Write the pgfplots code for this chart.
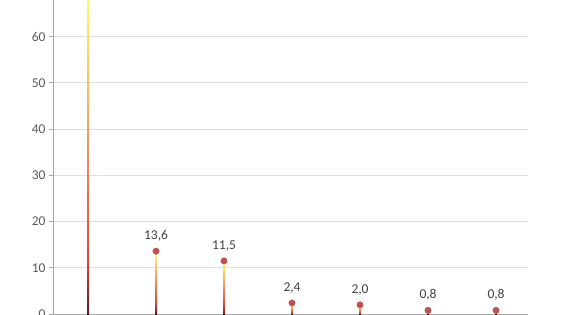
\documentclass[border=0pt]{standalone}
\usepackage{fontspec}
\setmainfont{Carlito}
\usepackage{pgfplots}
\pgfplotsset{compat=1.18}
\definecolor{stemdark}{HTML}{4A1E1E}
\definecolor{stemred}{HTML}{D6453F}
\definecolor{stemorange}{HTML}{F2A46A}
\definecolor{stemyellow}{HTML}{FFFF5A}
\definecolor{markred}{HTML}{C0504D}
\definecolor{ticktext}{HTML}{595959}
\definecolor{labeltext}{HTML}{404040}
\definecolor{gridc}{HTML}{DEDEDE}
\definecolor{axisc}{HTML}{A6A6A6}
\pgfdeclareverticalshading{stem}{100bp}{color(0bp)=(stemdark); color(25bp)=(stemdark); color(33bp)=(stemred); color(55bp)=(stemorange); color(75bp)=(stemyellow); color(100bp)=(stemyellow)}
\begin{document}
\begin{tikzpicture}
\begin{axis}[
  scale only axis,
  width=475pt, height=315pt,
  xmin=-0.515, xmax=6.47,
  ymin=-0.2, ymax=67.9,
  axis x line=none,
  axis y line*=left,
  axis line style={draw=axisc, line width=0.8pt},
  ytick={0,10,20,30,40,50,60},
  ymajorgrids,
  grid style={draw=gridc, line width=0.8pt},
  tick align=outside,
  major tick length=4pt,
  tick style={draw=axisc, line width=0.8pt},
  yticklabel style={font=\fontsize{13.5}{16}\selectfont, text=ticktext},
  /pgf/number format/assume math mode=true,
  clip=false,
]
\draw[axisc, line width=0.8pt] (axis cs:-0.515,0) -- (axis cs:6.47,0);
\addplot[ybar, bar width=2pt, bar shift=0pt, draw=none, shading=stem] coordinates {(0,68.9)};
\addplot[ybar, bar width=2pt, bar shift=0pt, draw=none, shading=stem] coordinates {(1,13.6)};
\addplot[ybar, bar width=2pt, bar shift=0pt, draw=none, shading=stem] coordinates {(2,11.5)};
\addplot[ybar, bar width=2pt, bar shift=0pt, draw=none, shading=stem] coordinates {(3,2.4)};
\addplot[ybar, bar width=2pt, bar shift=0pt, draw=none, shading=stem] coordinates {(4,2.0)};
\addplot[ybar, bar width=2pt, bar shift=0pt, draw=none, shading=stem] coordinates {(5,0.8)};
\addplot[ybar, bar width=2pt, bar shift=0pt, draw=none, shading=stem] coordinates {(6,0.8)};
\addplot[only marks, mark=*, mark size=3.2pt, color=markred,
  nodes near coords={\pgfmathprintnumber[fixed,fixed zerofill,precision=1,use comma,assume math mode=true]{\pgfplotspointmeta}},
  every node near coord/.append style={anchor=base, yshift=11.5pt, font=\fontsize{13.5}{16}\selectfont, text=labeltext}]
  coordinates {(1,13.6) (2,11.5) (3,2.4) (4,2.0) (5,0.8) (6,0.8)};
\end{axis}
\pgfresetboundingbox
\path[use as bounding box] ([xshift=-53pt]current axis.south west) rectangle ([xshift=33pt]current axis.north east);
\end{tikzpicture}
\end{document}
